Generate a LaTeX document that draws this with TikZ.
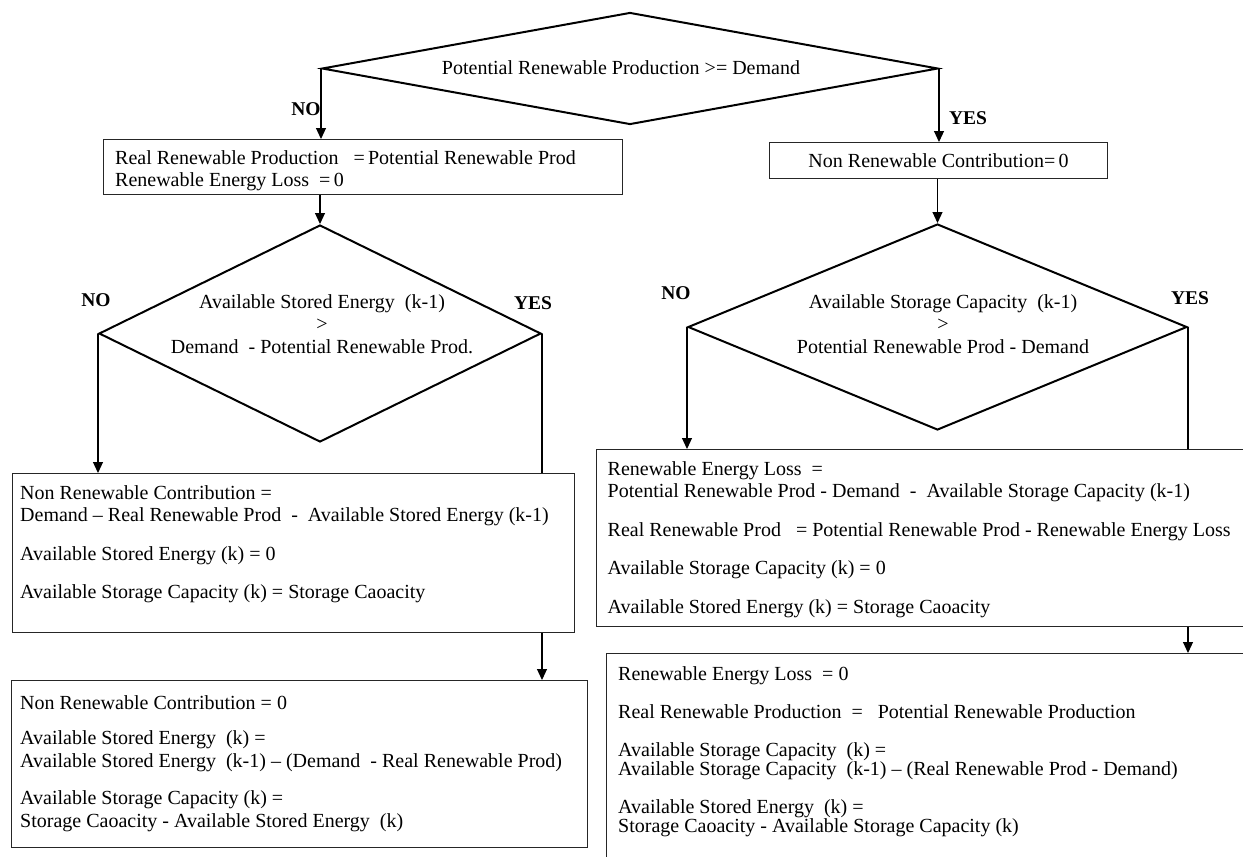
\documentclass[tikz,border=0pt]{standalone}
\usepackage{fontspec}
\setmainfont{Liberation Serif}
\usetikzlibrary{shapes.geometric,arrows.meta,calc}
\begin{document}
\begin{tikzpicture}[x=1pt,y=-1pt,
  box/.style={draw=black!85, line width=1.1pt, inner sep=0pt, anchor=north west},
  dia/.style={draw=black, line width=2pt, shape=diamond, inner sep=0pt},
  txt/.style={inner sep=0pt, anchor=north west, align=left, font=\fontsize{20}{22.5}\selectfont},
  ctxt/.style={inner sep=0pt, align=center, font=\fontsize{20}{22.5}\selectfont},
  lbl/.style={inner sep=0pt, font=\fontsize{19.5}{22}\selectfont\bfseries},
  conn/.style={line width=1.1pt},
  arr/.style={conn, -{Triangle[width=10pt,length=11pt]}}
]
\useasboundingbox (0,0) rectangle (1243,857);
\fill[white] (0,0) rectangle (1243,857);
\clip (0,0) rectangle (1243,857);

% decisions
\node[dia, minimum width=616pt, minimum height=112pt] (d1) at (630,68.5) {};
\node[ctxt] (d1t) at (621,68) {Potential Renewable Production >= Demand};

\node[dia, minimum width=442pt, minimum height=217pt] (d2) at (320,333.5) {};
\node[ctxt] (d2t) at (322,324) {Available Stored Energy\ \ (k-1)\\>\\Demand\ \ - Potential Renewable Prod.};

\node[dia, minimum width=499pt, minimum height=206pt] (d3) at (937.5,327) {};
\node[ctxt] (d3t) at (943,324) {Available Storage Capacity\ \ (k-1)\\>\\Potential Renewable Prod - Demand};

% boxes
\node[box, minimum width=519.5pt, minimum height=55pt] (b1) at (102.5,139) {};
\node[txt] (b1t) at ($(b1.north west)+(12.5,11)$) {Real Renewable Production\ \ \ =\,Potential Renewable Prod\\Renewable Energy Loss\ \ =\,0};

\node[box, minimum width=338pt, minimum height=36pt, font=\fontsize{20}{22.5}\selectfont] (b2) at (769,142) {Non Renewable Contribution=\,0};

\node[box, minimum width=562.5pt, minimum height=159pt] (b3) at (11.5,473) {};
\node[txt] (b3t) at ($(b3.north west)+(8.5,12)$) {Non Renewable Contribution =\\Demand – Real Renewable Prod\ \ -\ \ Available Stored Energy (k-1)\\[16pt]Available Stored Energy (k) = 0\\[16pt]Available Storage Capacity (k) = Storage Caoacity};

\node[box, minimum width=576pt, minimum height=167pt] (b4) at (11,680) {};
\node[txt] (b4t) at ($(b4.north west)+(9,15)$) {Non Renewable Contribution = 0\\[13pt]Available Stored Energy\ \ (k) =\\Available Stored Energy\ \ (k-1) – (Demand\ \ - Real Renewable Prod)\\[15pt]Available Storage Capacity (k) =\\Storage Caoacity - Available Stored Energy\ \ (k)};

\node[box, minimum width=680pt, minimum height=177pt] (b5) at (596,449) {};
\node[txt] (b5t) at ($(b5.north west)+(11.5,12)$) {Renewable Energy Loss\ \ =\\Potential Renewable Prod - Demand\ \ -\ \ Available Storage Capacity (k-1)\\[16pt]Real Renewable Prod\ \ \ = Potential Renewable Prod - Renewable Energy Loss\\[16pt]Available Storage Capacity (k) = 0\\[16pt]Available Stored Energy (k) = Storage Caoacity};

\node[box, minimum width=680pt, minimum height=230pt] (b6) at (606,653) {};
\node[txt, font=\fontsize{20}{19}\selectfont] (b6t) at ($(b6.north west)+(12,13)$) {Renewable Energy Loss\ \ = 0\\[19pt]Real Renewable Production\ \ =\ \ \ Potential Renewable Production\\[19pt]Available Storage Capacity\ \ (k) =\\Available Storage Capacity\ \ (k-1) – (Real Renewable Prod - Demand)\\[19pt]Available Stored Energy\ \ (k) =\\Storage Caoacity - Available Storage Capacity (k)};

% labels
\node[lbl] (l1) at (306,109) {NO};
\node[lbl] (l2) at (968,118) {YES};
\node[lbl] (l3) at (96,300) {NO};
\node[lbl] (l4) at (533,303) {YES};
\node[lbl] (l5) at (676,293) {NO};
\node[lbl] (l6) at (1190,298) {YES};

% connectors
\draw[arr] (d1.west) -- (d1.west |- b1.north);
\draw[arr] (d1.east) -- (d1.east |- b2.north);
\draw[arr] (b1.south -| d2.north) -- (d2.north);
\draw[arr] (b2.south -| d3.north) -- (d3.north);
\draw[arr] (d2.west) -- (d2.west |- b3.north);
\draw[conn] (d2.east) -- (d2.east |- b3.north);
\draw[arr] (b3.south -| d2.east) -- (b4.north -| d2.east);
\draw[arr] (d3.west) -- (d3.west |- b5.north);
\draw[conn] (d3.east) -- (d3.east |- b5.north);
\draw[arr] (b5.south -| d3.east) -- (b6.north -| d3.east);
\end{tikzpicture}
\end{document}
